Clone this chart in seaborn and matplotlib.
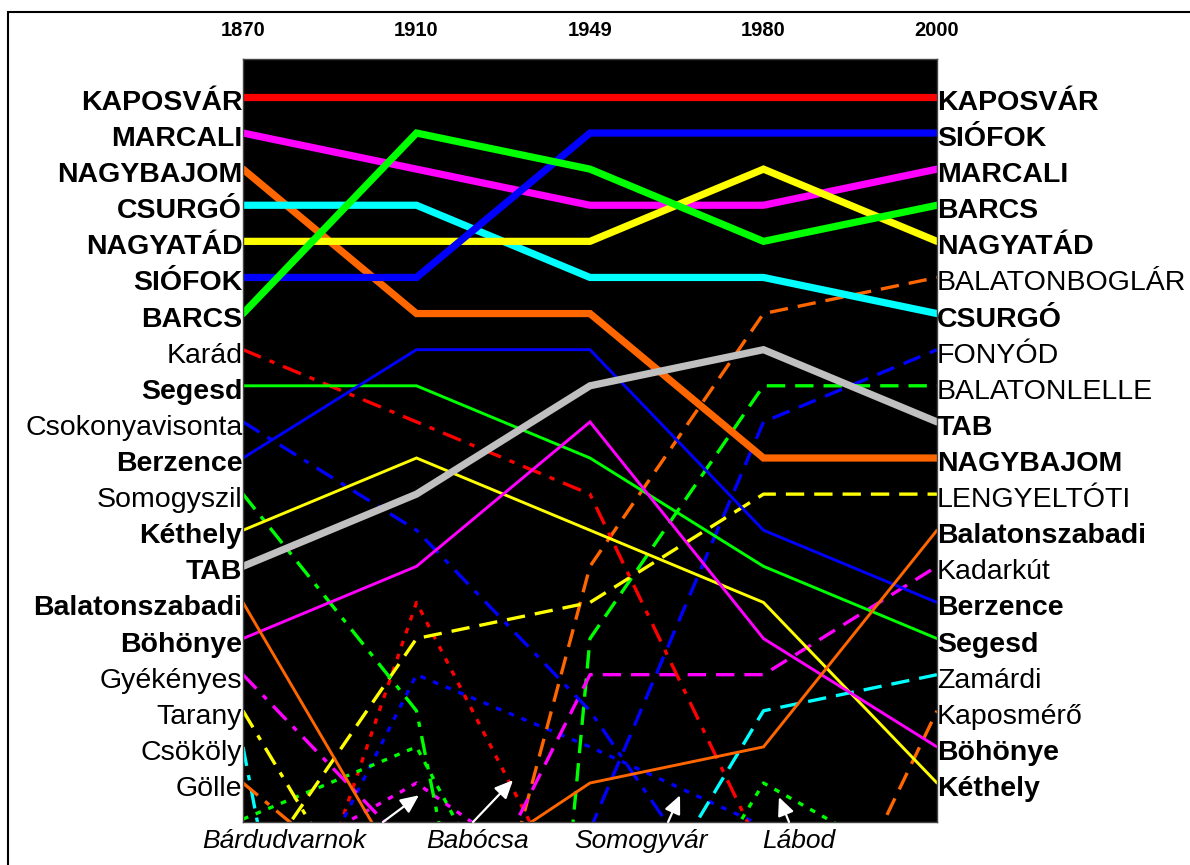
import numpy as np
import pandas as pd
import seaborn as sns
import matplotlib.pyplot as plt
from matplotlib.patches import Rectangle

nan = np.nan

# census years (columns of the ranking)
years = ["1870", "1910", "1949", "1980", "2000"]

# towns - thick lines
city_names = ["KAPOSVÁR", "MARCALI", "NAGYBAJOM", "CSURGÓ", "NAGYATÁD", "SIÓFOK", "BARCS", "TAB"]
city_ranks = [
    [1, 1, 1, 1, 1],
    [2, 3, 4, 4, 3],
    [3, 7, 7, 11, 11],
    [4, 4, 6, 6, 7],
    [5, 5, 5, 3, 5],
    [6, 6, 2, 2, 2],
    [7, 2, 3, 5, 4],
    [14, 12, 9, 8, 10],
]

# large villages - thin solid lines
village_names = ["Segesd", "Berzence", "Kéthely", "Böhönye", "Balatonszabadi"]
village_ranks = [
    [9, 9, 11, 14, 16],
    [11, 8, 8, 13, 15],
    [13, 11, 13, 15, 20],
    [16, 14, 10, 16, 19],
    [15, 23.2, 20, 19, 13],
]

# dropped out of the top 20 - dash-dot
fallen_names = ["Karád", "Csokonyavisonta", "Somogyszil", "Gyékényes", "Tarany", "Csököly", "Gölle"]
fallen_ranks = [
    [8, 10, 12, 22, nan],
    [10, 13, 18, 25, nan],
    [12, 18, 42, nan, nan],
    [17, 22, nan, nan, nan],
    [18, 26, nan, nan, nan],
    [19, 44, nan, nan, nan],
    [20, 24, nan, nan, nan],
]

# climbed into the top 20 - dashed
risen_names = ["BALATONBOGLÁR", "FONYÓD", "BALATONLELLE", "LENGYELTÓTI", "Kadarkút", "Zamárdi", "Kaposmérő"]
risen_ranks = [
    [nan, 32, 14, 7, 6],
    [nan, nan, 21.3, 10, 8],
    [nan, 68, 16, 9, 9],
    [23, 16, 15, 12, 12],
    [nan, 26.6, 17, 17, 14],
    [nan, nan, 26, 18, 17],
    [nan, nan, nan, 28, 18],
]

# only briefly in the top 20 - dotted
brief_names = ["Bárdudvarnok", "Babócsa", "Somogyvár", "Lábod"]
brief_ranks = [
    [22.7, 20, 23.4, nan, nan],
    [29, 15, 24.3, nan, nan],
    [26.5, 17, 19, 21.2, nan],
    [21, 19, 28, 20, 22.7],
]

ORANGE = "#FF6600"
groups = [
    (city_names, city_ranks, ["#FF0000", "#FF00FF", ORANGE, "#00FFFF", "#FFFF00", "#0000FF", "#00FF00", "#C0C0C0"],
     dict(linewidth=5.2, linestyle="-"), "bold"),
    (village_names, village_ranks, ["#00FF00", "#0000FF", "#FFFF00", "#FF00FF", ORANGE],
     dict(linewidth=2.1, linestyle="-"), "bold"),
    (fallen_names, fallen_ranks, ["#FF0000", "#0000FF", "#00FF00", "#FF00FF", "#FFFF00", "#00FFFF", ORANGE],
     dict(linewidth=2.4, linestyle=(0, (5.8, 2.8, 1.6, 2.8))), "normal"),
    (risen_names, risen_ranks, [ORANGE, "#0000FF", "#00FF00", "#FFFF00", "#FF00FF", "#00FFFF", ORANGE],
     dict(linewidth=2.4, linestyle=(0, (5.5, 3))), "normal"),
    (brief_names, brief_ranks, ["#FF00FF", "#FF0000", "#0000FF", "#00FF00"],
     dict(linewidth=2.4, linestyle=(0, (1.7, 2.4))), "normal"),
]

sns.set_style("white")
plt.rcParams["font.family"] = ["Liberation Sans", "DejaVu Sans"]
plt.rcParams["text.color"] = "black"
plt.rcParams["xtick.color"] = "black"
plt.rcParams["xtick.labelcolor"] = "black"

fig = plt.figure(figsize=(11.9, 8.65), dpi=100)
ax = fig.add_axes([243 / 1190, 1 - 822 / 865, (937 - 243) / 1190, (822 - 59) / 865])
ax.set_facecolor("black")

x = np.arange(len(years))
# draw the thin ones first so the thick town lines stay on top
for names, ranks, colors, kws, weight in groups[::-1]:
    for name, r, c in zip(names, ranks, colors):
        df = pd.DataFrame({"year": x, "rank": r}).dropna()
        sns.lineplot(data=df, x="year", y="rank", color=c, ax=ax, legend=False,
                     solid_joinstyle="miter", **kws)

ax.set_xlim(0, len(years) - 1)
ax.set_ylim(21.08, -0.05)
ax.set_yticks([])
ax.set_ylabel("")
ax.set_xlabel("")
ax.set_xticks(x)
ax.set_xticklabels(years, fontsize=14.5, fontweight="bold", color="black")
ax.xaxis.tick_top()
ax.tick_params(axis="x", length=0, pad=13.5)
for s in ax.spines.values():
    s.set_color("#444444")
    s.set_linewidth(1)

# names on both sides, for ranks 1-20
for names, ranks, colors, kws, weight in groups:
    for name, r in zip(names, ranks):
        if r[0] <= 20 and r[0] == int(r[0]):
            ax.text(-0.004, r[0] + 0.36, name, ha="right", va="baseline",
                    fontsize=20.5, fontweight=weight, color="black", clip_on=False)
        if r[-1] <= 20 and r[-1] == int(r[-1]):
            ax.text(4.0, r[-1] + 0.36, name, ha="left", va="baseline",
                    fontsize=20.5, fontweight=weight, color="black", clip_on=False)

# names at the bottom with white arrows
bottom_label_x = [0.236, 1.354, 2.294, 3.205]
arrow_tail = [(0.807, 21.08), (1.326, 21.08), (2.45, 21.08), (3.147, 21.08)]
arrow_tip = [(1.014, 20.34), (1.556, 19.92), (2.519, 20.34), (3.089, 20.39)]
for name, lx, tail, tip in zip(brief_names, bottom_label_x, arrow_tail, arrow_tip):
    ax.text(lx, 21.8, name, ha="center", va="baseline", fontsize=19,
            fontstyle="italic", color="black", clip_on=False)
    ax.annotate("", xy=tip, xytext=tail,
                arrowprops=dict(arrowstyle="-|>,head_length=0.55,head_width=0.25",
                                color="white", lw=1.6,
                                mutation_scale=20, shrinkA=0, shrinkB=0))

# outer frame
fig.patches.append(Rectangle((8 / 1190, -0.02), 1.0, (865 - 12) / 865 + 0.02,
                             transform=fig.transFigure, fill=False,
                             edgecolor="black", linewidth=1.5))

plt.savefig("out.png", dpi=100)
plt.close()
